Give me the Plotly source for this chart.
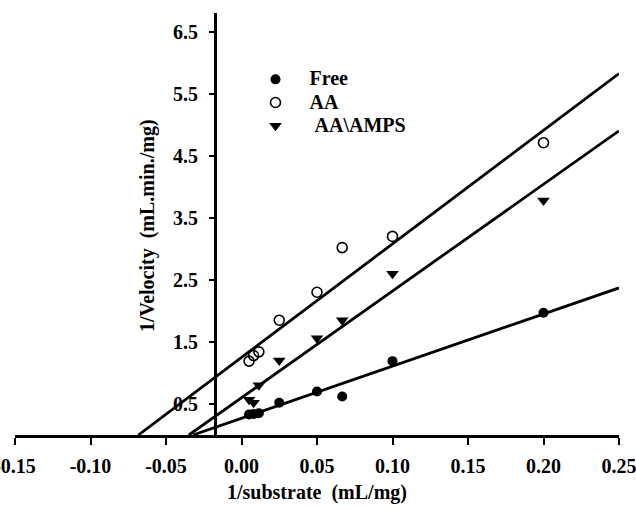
import plotly.graph_objects as go

# Lineweaver-Burk data: 1/[S] (mL/mg) against 1/V (mL.min./mg)
inv_substrate = [0.005, 0.008, 0.0115, 0.025, 0.05, 0.0667, 0.1, 0.2]
inv_velocity_free = [0.33, 0.34, 0.35, 0.52, 0.70, 0.62, 1.19, 1.97]
inv_velocity_aa = [1.19, 1.28, 1.34, 1.85, 2.30, 3.02, 3.20, 4.71]
inv_velocity_aa_amps = [0.57, 0.52, 0.80, 1.20, 1.56, 1.85, 2.60, 3.78]

# Linear fits (slope, intercept) for each preparation
fit_free = (8.4, 0.27)
fit_aa = (18.3, 1.25)
fit_aa_amps = (17.2, 0.60)

series_names = ["Free", "AA", "\u00a0AA\\AMPS"]
x_ticks = [-0.15, -0.10, -0.05, 0.00, 0.05, 0.10, 0.15, 0.20, 0.25]
x_tick_text = ["-0.15", "-0.10", "-0.05", "0.00", "0.05", "0.10", "0.15", "0.20", "0.25"]
y_ticks = [0.5, 1.5, 2.5, 3.5, 4.5, 5.5, 6.5]
x_range = [-0.15, 0.25]
y_range = [0, 6.8]
y_axis_at = -0.0175

FONT = "Liberation Serif"
fig = go.Figure()

# Regression lines from the x-intercept (-1/Km) out to the right edge
for slope, icpt in (fit_aa, fit_aa_amps, fit_free):
    x0 = -icpt / slope
    xs = [x0, x_range[1]]
    fig.add_trace(go.Scatter(
        x=xs, y=[slope * v + icpt for v in xs], mode="lines",
        line=dict(color="black", width=2.8), showlegend=False, hoverinfo="skip"))

marker_styles = [
    dict(symbol="circle", size=10, color="black", line=dict(width=0)),
    dict(symbol="circle-open", size=10, color="black", line=dict(width=1.6)),
    dict(symbol="triangle-down", size=11, color="black", line=dict(width=0)),
]
for name, ys, mk in zip(series_names,
                        [inv_velocity_free, inv_velocity_aa, inv_velocity_aa_amps],
                        marker_styles):
    fig.add_trace(go.Scatter(
        x=inv_substrate, y=ys, mode="markers",
        # larger glyphs inside a compact legend row
        name='<span style="font-size:20px">' + name + "</span>",
        marker=mk, cliponaxis=False))

plot_l, plot_r, plot_t, plot_b = 15, 17, 13, 75

fig.update_layout(
    width=636, height=510,
    margin=dict(l=plot_l, r=plot_r, t=plot_t, b=plot_b, autoexpand=False),
    paper_bgcolor="white", plot_bgcolor="white",
    font=dict(family=FONT, color="black", size=20),
    showlegend=True,
    legend=dict(x=0.375, y=0.882, xanchor="left", yanchor="top",
                bgcolor="rgba(0,0,0,0)", borderwidth=0,
                font=dict(family=FONT, size=15.5, weight="bold", color="black"),
                itemwidth=58, tracegroupgap=0),
    xaxis=dict(range=x_range, tickvals=x_ticks, ticktext=x_tick_text,
               showgrid=False, zeroline=False, showline=True, linecolor="black",
               linewidth=3, ticks="outside", ticklen=7, tickwidth=2,
               tickcolor="black", ticklabelstandoff=4, ticklabeloverflow="allow",
               tickfont=dict(family=FONT, size=20, weight="bold")),
    yaxis=dict(range=y_range, tickvals=y_ticks, anchor="free",
               position=(y_axis_at - x_range[0]) / (x_range[1] - x_range[0]),
               showgrid=False, zeroline=False, showline=True, linecolor="black",
               linewidth=3, ticks="outside", ticklen=5, tickwidth=1.5,
               tickcolor="black", ticklabelstandoff=7, ticklabeloverflow="allow",
               tickfont=dict(family=FONT, size=20, weight="bold")),
    annotations=[
        dict(text="1/substrate\u00a0 (mL/mg)", xref="paper", yref="paper",
             x=0.5, y=-0.137, xanchor="center", yanchor="middle", showarrow=False,
             font=dict(family=FONT, size=20, weight="bold")),
        dict(text="1/Velocity\u00a0 (mL.min./mg)", xref="paper", yref="paper",
             x=0.2185, y=0.4976, xanchor="center", yanchor="middle", showarrow=False,
             textangle=-90, font=dict(family=FONT, size=20, weight="bold")),
    ],
)

fig.write_html("out.html")
